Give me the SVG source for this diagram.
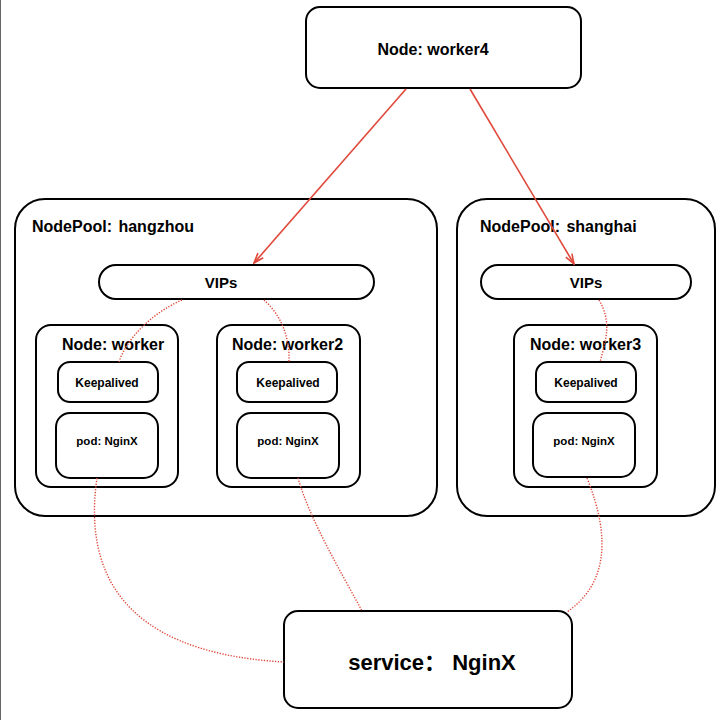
<svg xmlns="http://www.w3.org/2000/svg" width="728" height="720" viewBox="0 0 728 720">
<style>
.box{fill:#fff;stroke:#000;stroke-width:2}
.t{font-family:"Liberation Sans","Noto Sans CJK SC",sans-serif;font-weight:bold;fill:#000}
.arrow{fill:none;stroke:#e0483a;stroke-width:1.6}
.dot{fill:none;stroke:#e0483a;stroke-width:1.4;stroke-dasharray:1.3 1.5}
</style>
<defs>
<marker id="ah" viewBox="0 0 12 10" refX="11" refY="5" markerWidth="12" markerHeight="10" markerUnits="userSpaceOnUse" orient="auto">
<path d="M1,1.5 L11,5 L1,8.5" fill="none" stroke="#e0483a" stroke-width="1.6"/>
</marker>
</defs>
<rect width="728" height="720" fill="#fff"/>
<line x1="0.5" y1="0" x2="0.5" y2="720" stroke="#666" stroke-width="1"/>

<g id="worker4">
<rect class="box" x="306" y="7" width="275" height="81" rx="14"/>
<text class="t" x="433" y="55" font-size="16" text-anchor="middle">Node: worker4</text>
</g>

<g id="pool-hangzhou">
<rect class="box" x="15" y="199" width="422" height="317" rx="30"/>
<text class="t" x="32" y="232" font-size="16" word-spacing="2">NodePool: hangzhou</text>
</g>
<g id="vips-hangzhou">
<rect class="box" x="99" y="265" width="275" height="34" rx="17"/>
<text class="t" x="221" y="288" font-size="15" text-anchor="middle">VIPs</text>
</g>
<g id="node-worker">
<rect class="box" x="36" y="325" width="142" height="162" rx="15"/>
<text class="t" x="62" y="350" font-size="16">Node: worker</text>
<rect class="box" x="58" y="362" width="100" height="40" rx="12"/>
<text class="t" x="107" y="387" font-size="12" text-anchor="middle">Keepalived</text>
<rect class="box" x="56" y="413" width="102" height="65" rx="14"/>
<text class="t" x="107" y="445" font-size="11.5" text-anchor="middle">pod: NginX</text>
</g>
<g id="node-worker2">
<rect class="box" x="217" y="325" width="143" height="162" rx="15"/>
<text class="t" x="232" y="350" font-size="16">Node: worker2</text>
<rect class="box" x="237" y="362" width="100" height="40" rx="12"/>
<text class="t" x="288" y="387" font-size="12" text-anchor="middle">Keepalived</text>
<rect class="box" x="237" y="413" width="102" height="65" rx="14"/>
<text class="t" x="288" y="445" font-size="11.5" text-anchor="middle">pod: NginX</text>
</g>

<g id="pool-shanghai">
<rect class="box" x="457" y="199" width="258" height="317" rx="30"/>
<text class="t" x="480" y="232" font-size="16" word-spacing="2">NodePool: shanghai</text>
</g>
<g id="vips-shanghai">
<rect class="box" x="481" y="265" width="210" height="34" rx="17"/>
<text class="t" x="586" y="288" font-size="15" text-anchor="middle">VIPs</text>
</g>
<g id="node-worker3">
<rect class="box" x="514" y="325" width="143" height="162" rx="15"/>
<text class="t" x="530" y="350" font-size="16">Node: worker3</text>
<rect class="box" x="536" y="362" width="100" height="40" rx="12"/>
<text class="t" x="586" y="387" font-size="12" text-anchor="middle">Keepalived</text>
<rect class="box" x="533" y="413" width="102" height="64" rx="14"/>
<text class="t" x="584" y="445" font-size="11.5" text-anchor="middle">pod: NginX</text>
</g>

<g id="service">
<rect class="box" x="284" y="611" width="288" height="97" rx="14"/>
<text class="t" x="432" y="670" font-size="22" text-anchor="middle">service： NginX</text>
</g>

<g id="connectors">
<line class="arrow" x1="406" y1="89" x2="254" y2="263" marker-end="url(#ah)"/>
<line class="arrow" x1="470" y1="89" x2="574" y2="264" marker-end="url(#ah)"/>
<path class="dot" d="M182 300 C150 314,126 340,119 362"/>
<path class="dot" d="M264 300 C280 314,290 336,289 362"/>
<path class="dot" d="M599 300 C612 322,606 340,600 362"/>
<path class="dot" d="M97 478 C85 560,110 652,284 662"/>
<path class="dot" d="M298 478 C310 520,340 570,362 611"/>
<path class="dot" d="M587 478 C612 540,606 585,567 612"/>
</g>
</svg>
